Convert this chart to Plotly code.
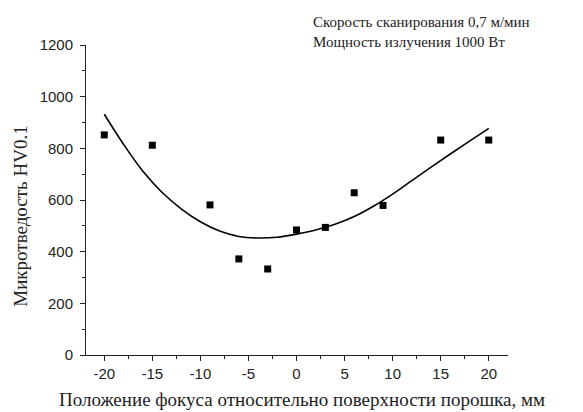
import plotly.graph_objects as go

# Measured points
focus_mm = [-20, -15, -9, -6, -3, 0, 3, 6, 9, 15, 20]
hardness = [852, 812, 581, 372, 333, 484, 494, 628, 579, 832, 832]

# Fitted curve
fit_x = [-20, -18, -16, -14, -12, -10, -8, -6, -4, -2, 0, 2, 4, 6, 8, 10, 12, 14, 16, 18, 20]
fit_y = [932, 816, 712, 630, 566, 516, 480, 459, 453, 456, 468, 484, 506, 536, 576, 623, 675, 727, 778, 828, 877]

x_ticks = [-20, -15, -10, -5, 0, 5, 10, 15, 20]
y_ticks = [0, 200, 400, 600, 800, 1000, 1200]

x_title = "Положение фокуса относительно поверхности порошка, мм"
y_title = "Микротведость HV0.1"
note = "Скорость сканирования 0,7 м/мин<br>Мощность излучения 1000 Вт"

serif = "Liberation Serif, Times New Roman, serif"

fig = go.Figure()
fig.add_trace(go.Scatter(x=fit_x, y=fit_y, mode="lines",
                         line=dict(color="black", width=1.6, shape="spline", smoothing=1.0),
                         showlegend=False, hoverinfo="skip"))
fig.add_trace(go.Scatter(x=focus_mm, y=hardness, mode="markers",
                         marker=dict(symbol="square", size=7, color="black"), showlegend=False))

axis_common = dict(showline=True, linecolor="#222", linewidth=1, showgrid=False, zeroline=False,
                   automargin=False,
                   ticks="outside", ticklen=5, tickwidth=1, tickcolor="#222",
                   tickfont=dict(family="Liberation Sans, Arial, sans-serif", size=15, color="#222"))

fig.update_xaxes(range=[-21.9, 22.0], tickvals=x_ticks, ticktext=[str(v) for v in x_ticks],
                 minor=dict(ticks="outside", ticklen=3, tickwidth=1, tickcolor="#222", dtick=2.5, tick0=-20),
                 **axis_common)
fig.update_yaxes(range=[0, 1200], tickvals=y_ticks, ticktext=[str(v) for v in y_ticks],
                 minor=dict(ticks="outside", ticklen=3, tickwidth=1, tickcolor="#222", dtick=100, tick0=0),
                 ticklabelstandoff=4,
                 **axis_common)

# axis titles as annotations for exact placement
fig.add_annotation(text=x_title, xref="paper", yref="paper", x=0.512, y=-0.145,
                   xanchor="center", yanchor="middle", showarrow=False,
                   font=dict(family=serif, size=19, color="#222"))
fig.add_annotation(text=y_title, xref="paper", yref="paper", x=-0.155, y=0.448, textangle=-90,
                   xanchor="center", yanchor="middle", showarrow=False,
                   font=dict(family=serif, size=19, color="#222"))

fig.add_annotation(text=note, xref="paper", yref="paper", x=0.533, y=1.106, xanchor="left", yanchor="top",
                   align="left", showarrow=False,
                   font=dict(family=serif, size=15, color="#222"))

# the page adds an 8 px offset, so the figure is 8 px smaller and margins shifted
fig.update_layout(width=575, height=404, margin=dict(l=78, r=75, t=37, b=57),
                  plot_bgcolor="white", paper_bgcolor="white")

fig.write_html("out.html")
